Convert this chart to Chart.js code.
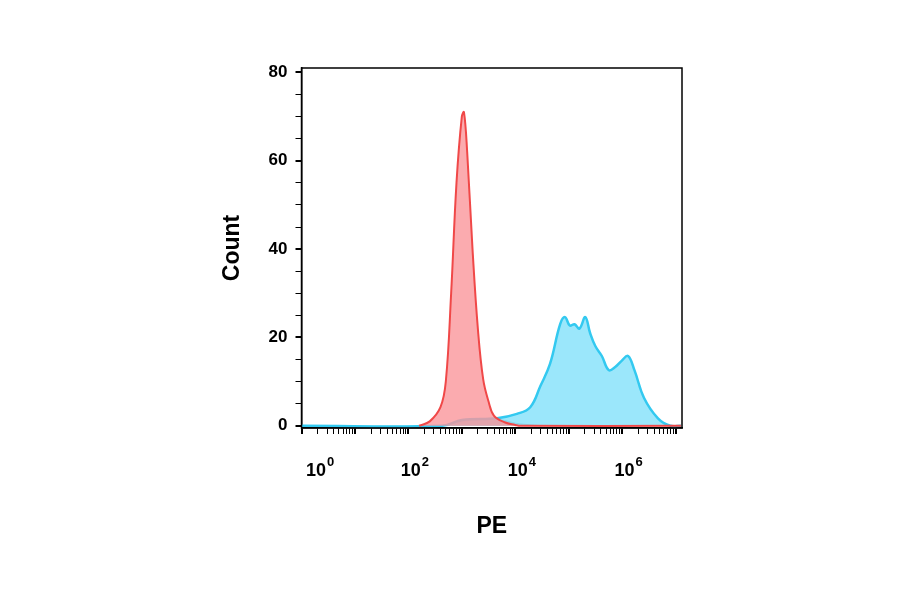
<!DOCTYPE html><html><head><script src="https://cdn.jsdelivr.net/npm/chart.js@4"></script>
<style>body{margin:0;background:#fff}#w{width:900px;height:594px}</style></head><body><div id="w"><canvas id="c"></canvas></div>
<script>
const redX=[2.2,2.4,2.6,2.7,2.8,2.9,3.0,3.04,3.1,3.2,3.3,3.4,3.5,3.6,3.8,4.0,4.1,7.1];
const redY=[0,1,4.2,10,30,55,70,71,62,40,22,10.5,5.5,2.3,0.8,0.2,0,0];
const blueX=[0,2.64,3.0,3.66,4.03,4.28,4.47,4.65,4.84,4.93,5.02,5.11,5.2,5.31,5.4,5.5,5.62,5.75,5.87,5.99,6.11,6.23,6.41,6.67,6.9,7.1];
const blueY=[0,0,1.3,1.7,2.7,4.2,9,14,23,24.6,22.7,23,22,24.6,21,18,15.8,12.6,13.3,14.7,15.8,12.6,6.3,1.7,0,0];
const grayX=[2.6,3.0,3.5,3.8,4.0,4.3,4.5];
const grayY=[0,1,1.5,1.2,0.6,0.2,0];
const yTicks=[0,20,40,60,80];
const xLabelExp=[0,2,4,6];
const pts=(xs,ys)=>xs.map((x,i)=>({x,y:ys[i]}));
const F='Liberation Sans, Arial';
const font={family:F,weight:'bold',size:17};
new Chart(document.getElementById('c'),{type:'scatter',data:{datasets:[
{data:pts(redX,redY),showLine:true,borderColor:'#f04848',backgroundColor:'rgba(250,150,155,0.8)',fill:'origin',pointRadius:0,borderWidth:2,tension:0.4},
{data:pts(blueX,blueY),showLine:true,borderColor:'#33c9f0',backgroundColor:'rgba(130,225,250,0.8)',fill:'origin',pointRadius:0,borderWidth:2.5,tension:0.4},
{data:pts(grayX,grayY),showLine:true,borderColor:'rgba(140,140,140,0.8)',backgroundColor:'rgba(150,150,150,0.6)',fill:'origin',pointRadius:0,borderWidth:1,tension:0.4}
]},options:{animation:false,responsive:true,maintainAspectRatio:false,
layout:{padding:{left:215,right:218,top:68,bottom:50}},
plugins:{legend:{display:false},tooltip:{enabled:false}},
scales:{
x:{type:'linear',min:0,max:7.12,border:{color:'#000',width:1.5},
 afterBuildTicks:a=>{const t=[];for(let d=0;d<=7;d++){for(let k=1;k<10;k++){const v=d+Math.log10(k);if(v<=7.12)t.push({value:v});}}a.ticks=t;},
 ticks:{autoSkip:false,maxRotation:0,color:'#000',font,padding:22,callback:()=>''},
 grid:{drawOnChartArea:false,color:'#000',tickLength:6,lineWidth:c=>Math.abs(c.tick.value-Math.round(c.tick.value))<1e-6?2:1},
 title:{display:true,text:'PE',color:'#000',font:{family:F,weight:'bold',size:23},padding:{top:14}}},
y:{min:-0.5,max:81,border:{color:'#000',width:1.5},
 afterBuildTicks:a=>{const t=[];for(let v=0;v<=80;v+=5)t.push({value:v});a.ticks=t;},
 ticks:{autoSkip:false,color:'#000',font,padding:8,callback:v=>yTicks.includes(v)?String(v):''},
 grid:{drawOnChartArea:false,color:'#000',tickLength:6,lineWidth:c=>yTicks.includes(c.tick.value)?2:1},
 title:{display:true,text:'Count',color:'#000',font:{family:F,weight:'bold',size:23},padding:{bottom:14}}}
}},plugins:[{id:'box',afterDraw(ch){const a=ch.chartArea,g=ch.ctx,sx=ch.scales.x;g.save();g.strokeStyle='#000';g.lineWidth=1.5;g.strokeRect(a.left,a.top,a.right-a.left,a.bottom-a.top);
g.fillStyle='#000';g.textBaseline='alphabetic';
xLabelExp.forEach(e=>{const px=sx.getPixelForValue(e)+(e===0?18:6);g.font='bold 18px '+F;const w1=g.measureText('10').width;g.font='bold 13px '+F;const w2=g.measureText(String(e)).width;const x0=px-(w1+w2)/2;g.font='bold 18px '+F;g.fillText('10',x0,a.bottom+48);g.font='bold 13px '+F;g.fillText(String(e),x0+w1+1,a.bottom+38);});
g.restore();}}]});
</script></body></html>
